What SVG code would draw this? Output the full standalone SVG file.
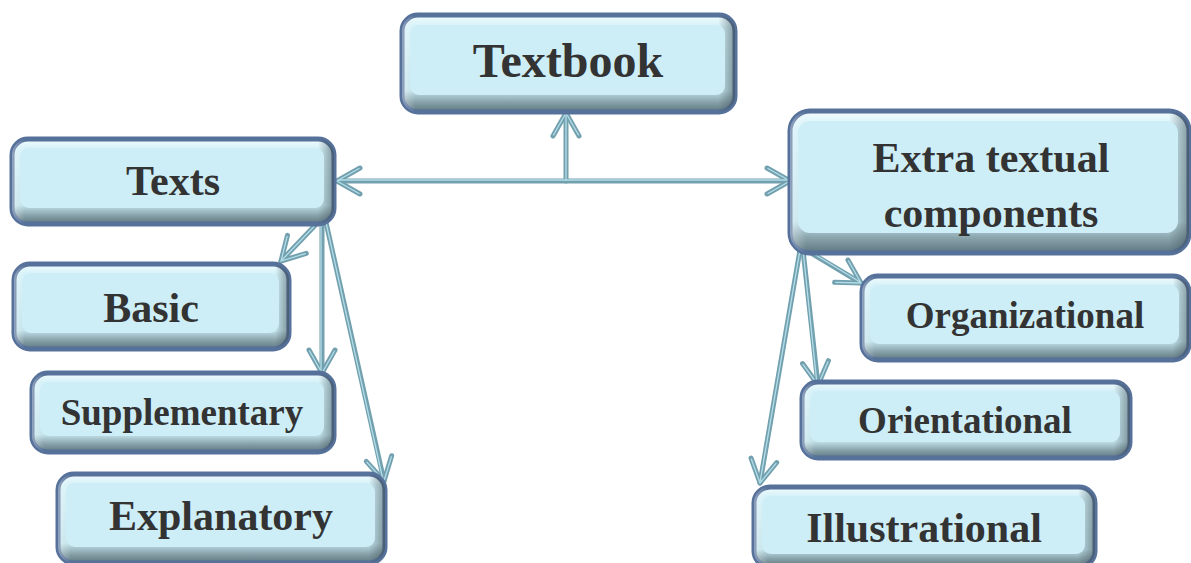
<svg xmlns="http://www.w3.org/2000/svg" width="1191" height="563" viewBox="0 0 1191 563">
  <defs>
    <linearGradient id="vbevel" x1="0" y1="0" x2="0" y2="1">
      <stop offset="0" stop-color="#f2fcfe"/>
      <stop offset="0.12" stop-color="#d4f1f8"/>
      <stop offset="0.78" stop-color="#c2e2ea"/>
      <stop offset="0.9" stop-color="#87a1a9"/>
      <stop offset="1" stop-color="#5d7680"/>
    </linearGradient>
    <linearGradient id="hshade" x1="0" y1="0" x2="1" y2="0">
      <stop offset="0" stop-color="#ffffff" stop-opacity="0.35"/>
      <stop offset="0.04" stop-color="#ffffff" stop-opacity="0"/>
      <stop offset="0.95" stop-color="#405058" stop-opacity="0"/>
      <stop offset="1" stop-color="#405058" stop-opacity="0.55"/>
    </linearGradient>
    <marker id="arr" markerUnits="userSpaceOnUse" markerWidth="40" markerHeight="40" refX="0" refY="0" viewBox="-30 -20 40 40" orient="auto-start-reverse" overflow="visible">
      <path d="M-23,-13 L0,0 L-23,13" fill="none" stroke="#72a0ae" stroke-width="5" stroke-linecap="round" stroke-linejoin="round"/>
      <path d="M-22,-12.5 L0,0 L-22,12.5" fill="none" stroke="#b4dde8" stroke-width="1.3" stroke-linecap="round"/>
    </marker>
  </defs>
  <style>
    .outer { fill: url(#vbevel); stroke: #56719a; stroke-width: 5; }
    .shade { fill: url(#hshade); stroke: none; }
    .face { fill: #cdeef7; }
    .lbl { font-family: "Liberation Serif", "Times New Roman", serif; font-weight: bold; fill: #333333; text-anchor: middle; }
    .conn { fill: none; stroke: #72a0ae; stroke-width: 5; stroke-linecap: round; }
    .hl { fill: none; stroke: #b4dde8; stroke-width: 1.3; }
  </style>
  <rect width="1191" height="563" fill="#ffffff"/>

  <g id="connectors">
    <line class="conn" x1="566" y1="181" x2="566" y2="113" marker-end="url(#arr)"/>
    <line class="conn" x1="337" y1="181" x2="790" y2="181" marker-start="url(#arr)" marker-end="url(#arr)"/>
    <line class="conn" x1="324" y1="216" x2="281" y2="261" marker-end="url(#arr)"/>
    <line class="conn" x1="322" y1="218" x2="322" y2="373" marker-end="url(#arr)"/>
    <line class="conn" x1="325" y1="218" x2="384" y2="481" marker-end="url(#arr)"/>
    <line class="conn" x1="806" y1="250" x2="861" y2="283" marker-end="url(#arr)"/>
    <line class="conn" x1="803" y1="250" x2="818" y2="385" marker-end="url(#arr)"/>
    <line class="conn" x1="800" y1="250" x2="760" y2="483" marker-end="url(#arr)"/>
    <line class="hl" x1="566" y1="181" x2="566" y2="114"/>
    <line class="hl" x1="338" y1="180" x2="789" y2="180"/>
    <line class="hl" x1="324" y1="216" x2="282" y2="260"/>
    <line class="hl" x1="321" y1="218" x2="321" y2="372"/>
    <line class="hl" x1="325" y1="218" x2="383" y2="480"/>
    <line class="hl" x1="806" y1="249" x2="860" y2="282"/>
    <line class="hl" x1="803" y1="250" x2="817" y2="384"/>
    <line class="hl" x1="800" y1="250" x2="760" y2="482"/>
  </g>

  <g id="textbook">
    <rect class="outer" x="402" y="15" width="333" height="97" rx="16"/>
    <rect class="shade" x="402" y="15" width="333" height="97" rx="16"/>
    <rect class="face" x="410" y="25" width="315" height="70" rx="9"/>
    <text class="lbl" x="568" y="77" font-size="48">Textbook</text>
  </g>

  <g id="texts">
    <rect class="outer" x="12" y="139" width="322" height="85" rx="16"/>
    <rect class="shade" x="12" y="139" width="322" height="85" rx="16"/>
    <rect class="face" x="20" y="148" width="304" height="60" rx="9"/>
    <text class="lbl" x="173" y="195" font-size="42">Texts</text>
  </g>

  <g id="basic">
    <rect class="outer" x="14" y="264" width="275" height="85" rx="16"/>
    <rect class="shade" x="14" y="264" width="275" height="85" rx="16"/>
    <rect class="face" x="22" y="273" width="257" height="60" rx="9"/>
    <text class="lbl" x="151" y="322" font-size="42">Basic</text>
  </g>

  <g id="supplementary">
    <rect class="outer" x="32" y="373" width="302" height="79" rx="16"/>
    <rect class="shade" x="32" y="373" width="302" height="79" rx="16"/>
    <rect class="face" x="40" y="382" width="284" height="54" rx="9"/>
    <text class="lbl" x="182" y="425" font-size="37">Supplementary</text>
  </g>

  <g id="explanatory">
    <rect class="outer" x="58" y="474" width="327" height="89" rx="16"/>
    <rect class="shade" x="58" y="474" width="327" height="89" rx="16"/>
    <rect class="face" x="66" y="483" width="309" height="64" rx="9"/>
    <text class="lbl" x="221" y="530" font-size="42">Explanatory</text>
  </g>

  <g id="extra-textual-components">
    <rect class="outer" x="790" y="111" width="399" height="142" rx="20"/>
    <rect class="shade" x="790" y="111" width="399" height="142" rx="20"/>
    <rect class="face" x="798" y="121" width="380" height="112" rx="12"/>
    <text class="lbl" x="991" y="172" font-size="42">Extra textual</text>
    <text class="lbl" x="991" y="227" font-size="42">components</text>
  </g>

  <g id="organizational">
    <rect class="outer" x="862" y="276" width="327" height="84" rx="16"/>
    <rect class="shade" x="862" y="276" width="327" height="84" rx="16"/>
    <rect class="face" x="870" y="285" width="309" height="59" rx="9"/>
    <text class="lbl" x="1025" y="328" font-size="37">Organizational</text>
  </g>

  <g id="orientational">
    <rect class="outer" x="802" y="382" width="328" height="76" rx="16"/>
    <rect class="shade" x="802" y="382" width="328" height="76" rx="16"/>
    <rect class="face" x="810" y="391" width="310" height="51" rx="9"/>
    <text class="lbl" x="965" y="433" font-size="37">Orientational</text>
  </g>

  <g id="illustrational">
    <rect class="outer" x="754" y="487" width="341" height="80" rx="16"/>
    <rect class="shade" x="754" y="487" width="341" height="80" rx="16"/>
    <rect class="face" x="762" y="496" width="323" height="58" rx="9"/>
    <text class="lbl" x="924" y="542" font-size="42">Illustrational</text>
  </g>
</svg>
